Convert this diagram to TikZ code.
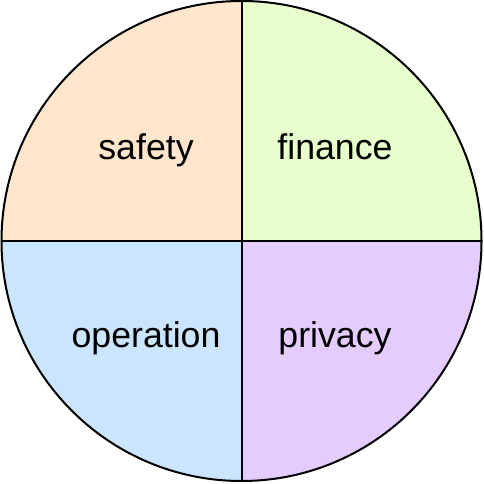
\documentclass[tikz,border=0pt]{standalone}
\usepackage{fontspec}
\setmainfont{Liberation Sans}
\usetikzlibrary{positioning}

\begin{document}
\begin{tikzpicture}[
    , x = 1pt
    , y = 1pt
    , line width = 2pt
    , font = \fontsize{35.7}{40}\selectfont
    , part/.style = {draw = none}
    , lbl/.style = {inner sep = 0pt, anchor = base}
  ]
    \useasboundingbox (0,0) rectangle (484,484);
    \coordinate (c) at (241.5,243);
    % quadrants
    \fill [part, fill = {rgb,255:red,255;green,230;blue,204}]
      (c) -- ++(90:240) arc (90:180:240) -- cycle;
    \fill [part, fill = {rgb,255:red,230;green,255;blue,204}]
      (c) -- ++(0:240) arc (0:90:240) -- cycle;
    \fill [part, fill = {rgb,255:red,204;green,229;blue,255}]
      (c) -- ++(180:240) arc (180:270:240) -- cycle;
    \fill [part, fill = {rgb,255:red,229;green,204;blue,255}]
      (c) -- ++(270:240) arc (270:360:240) -- cycle;
    \coordinate (top) at ([yshift=240]c);
    \coordinate (bot) at ([yshift=-240]c);
    \coordinate (lft) at ([xshift=-240]c);
    \coordinate (rgt) at ([xshift=240]c);
    \draw (top) -- (bot);
    \draw (lft) -- (rgt);
    \draw (c) circle [radius = 240];
    \node (safety) [lbl] at (146,324.5) {safety};
    \node (finance) [lbl] at (335,324.5) {finance};
    \node (operation) [lbl] at (146,136) {operation};
    \node (privacy) [lbl] at (335,136) {privacy};
  \end{tikzpicture}
\end{document}
